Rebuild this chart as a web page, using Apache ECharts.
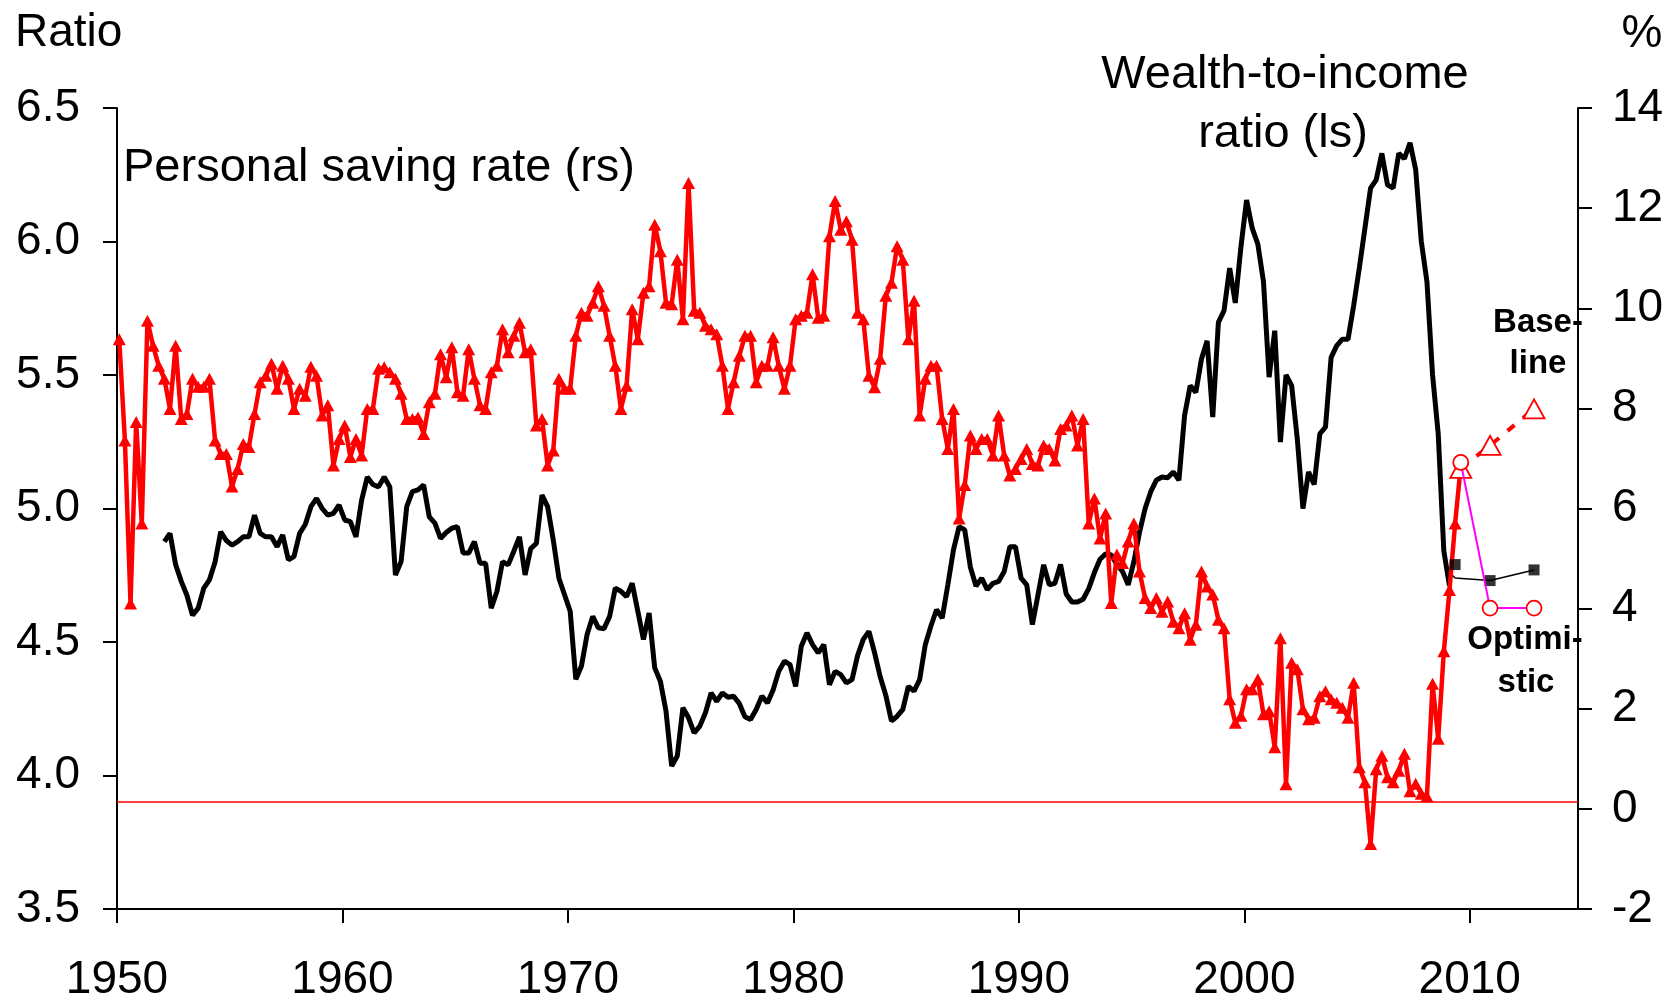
<!DOCTYPE html>
<html><head><meta charset="utf-8">
<script src="https://cdn.jsdelivr.net/npm/echarts/dist/echarts.min.js"></script>
<style>html,body{margin:0;padding:0;background:#fff}#c{width:1680px;height:1003px}</style>
</head><body><div id="c"></div>
<script>
// ---- data (quarterly) ----
const savingStart = 1950.1;   // position of first quarter (1950Q1)
const savingRate = [
9.38,7.36,4.10,7.73,5.70,9.75,9.25,8.85,8.59,7.99,9.25,7.79,7.89,8.59,8.43,8.43,8.59,7.36,7.09,7.09,
6.44,6.79,7.29,7.23,7.89,8.52,8.65,8.89,8.39,8.85,8.59,7.99,8.39,8.25,8.83,8.65,7.86,8.06,6.86,7.39,
7.66,7.03,7.39,7.06,7.99,7.99,8.79,8.82,8.72,8.59,8.29,7.79,7.79,7.82,7.49,8.12,8.29,9.08,8.62,9.22,
8.32,8.25,9.18,8.59,8.06,7.99,8.72,8.85,9.58,9.12,9.45,9.71,9.12,9.18,7.66,7.79,6.86,7.16,8.59,8.39,
8.39,9.45,9.91,9.85,10.11,10.44,10.05,9.45,8.85,7.99,8.45,9.98,9.38,10.31,10.44,11.67,11.14,10.11,10.08,10.97,
9.78,12.5,9.95,9.91,9.65,9.58,9.48,8.85,7.99,8.52,9.05,9.45,9.45,8.52,8.85,8.85,9.42,8.85,8.39,8.85,
9.78,9.85,9.91,10.68,9.81,9.85,11.44,12.14,11.57,11.74,11.37,9.91,9.78,8.65,8.42,8.99,10.25,10.51,11.24,10.97,
9.38,10.15,7.86,8.59,8.85,8.85,7.79,7.19,7.99,5.80,6.47,7.46,7.19,7.39,7.39,7.06,7.86,7.06,6.66,6.79,
6.99,7.19,6.89,6.86,7.26,7.19,6.96,7.59,7.66,7.86,7.26,7.79,5.70,6.20,5.40,5.90,4.11,5.08,4.91,5.34,
5.70,4.74,4.21,4.01,4.21,3.94,4.14,3.74,3.61,3.91,3.38,3.68,4.74,4.44,4.28,3.78,3.61,2.19,1.72,1.86,
2.39,2.39,2.59,1.89,1.95,1.23,3.41,0.49,2.92,2.79,1.99,1.79,1.82,2.25,2.35,2.19,2.12,2.02,1.82,2.52,
0.83,0.53,-0.70,0.79,1.06,0.63,0.53,0.76,1.10,0.35,0.50,0.30,0.25,2.50,1.40,3.15,4.37,5.70,6.85
];
const wealthStart = 1952.1;   // position of first quarter (1952Q1)
const wealthRatio = [
4.876,4.907,4.79,4.727,4.675,4.60,4.627,4.702,4.733,4.80,4.913,4.88,4.863,4.876,4.894,4.894,4.975,4.907,4.894,4.894,
4.857,4.901,4.808,4.82,4.907,4.94,5.007,5.038,5.00,4.975,4.982,5.013,4.957,4.951,4.894,5.031,5.118,5.09,5.081,5.118,
5.081,4.751,4.801,5.007,5.063,5.07,5.088,4.969,4.945,4.888,4.91,4.926,4.932,4.833,4.833,4.876,4.795,4.795,4.627,4.689,
4.801,4.789,4.84,4.894,4.751,4.85,4.869,5.05,5.007,4.882,4.739,4.677,4.615,4.36,4.41,4.528,4.596,4.553,4.55,4.596,
4.702,4.69,4.67,4.72,4.615,4.509,4.609,4.403,4.353,4.241,4.036,4.073,4.254,4.216,4.16,4.185,4.235,4.309,4.278,4.309,
4.293,4.297,4.27,4.22,4.21,4.247,4.297,4.272,4.32,4.39,4.428,4.415,4.334,4.484,4.534,4.49,4.459,4.49,4.34,4.39,
4.378,4.347,4.359,4.45,4.51,4.54,4.46,4.37,4.30,4.204,4.222,4.247,4.334,4.316,4.359,4.49,4.56,4.621,4.59,4.714,
4.845,4.932,4.92,4.78,4.71,4.739,4.696,4.72,4.727,4.764,4.857,4.857,4.739,4.714,4.565,4.677,4.789,4.714,4.72,4.79,
4.68,4.65,4.65,4.66,4.70,4.76,4.81,4.83,4.826,4.79,4.764,4.714,4.80,4.91,5.00,5.063,5.106,5.118,5.115,5.137,
5.106,5.348,5.46,5.435,5.56,5.628,5.342,5.697,5.741,5.90,5.77,5.98,6.155,6.05,5.99,5.85,5.492,5.666,5.249,5.50,
5.46,5.261,5.00,5.137,5.09,5.28,5.305,5.566,5.61,5.634,5.634,5.76,5.90,6.05,6.20,6.231,6.33,6.212,6.20,6.33,
6.31,6.37,6.27,6.00,5.85,5.50,5.28,4.84,4.71
];
// projections
const projYears = [2009.6, 2010.9, 2012.85];
const baselineSaving = [6.80, 7.26, 7.99];
const optimisticSaving = [6.92, 4.01, 4.01];
const wealthProjYears = [2009.1, 2009.35, 2010.9, 2012.85];
const wealthProj = [4.76, 4.74, 4.73, 4.77];
const wealthMarkYears = [2009.35, 2010.9, 2012.85];
const wealthMarks = [4.79, 4.73, 4.77];
const refLineRatio = 3.9;
// axes
const xTicks = [1950, 1960, 1970, 1980, 1990, 2000, 2010];

const FONT = '"Liberation Sans", Arial, sans-serif';
const quarterly = (start, arr) => arr.map((v, k) => [start + 0.25 * k, v]);
const pairs = (xs, ys) => xs.map((x, k) => [x, ys[k]]);

const chart = echarts.init(document.getElementById('c'), null, {renderer: 'canvas'});
const axisCommon = {
  axisLine: {show: true, onZero: false, lineStyle: {color: '#000', width: 2}},
  axisTick: {show: true, inside: false, length: 14, lineStyle: {color: '#000', width: 2}},
  splitLine: {show: false},
};
const txt = (text, x, y, size, align, bold) => ({
  type: 'text', z: 10,
  style: {text: text, x: x, y: y, font: (bold ? 'bold ' : '') + size + 'px ' + FONT, fill: '#000',
    textAlign: align, align: align, textVerticalAlign: 'middle', verticalAlign: 'middle'}
});
chart.setOption({
  animation: false,
  backgroundColor: '#fff',
  grid: {left: 117, right: 102, top: 108, bottom: 93, containLabel: false},
  xAxis: Object.assign({}, axisCommon, {
    type: 'value', min: 1950, max: 2014.8,
    axisTick: {show: true, inside: false, length: 14, lineStyle: {color: '#000', width: 2}, customValues: xTicks},
    axisLabel: {customValues: xTicks, fontSize: 46, fontFamily: FONT, color: '#000', margin: 71, verticalAlign: 'middle',
      formatter: v => String(v)}
  }),
  yAxis: [
    Object.assign({}, axisCommon, {
      type: 'value', position: 'left', min: 3.5, max: 6.5, interval: 0.5,
      axisLabel: {fontSize: 46, fontFamily: FONT, color: '#000', margin: 37, padding: [6, 0, 0, 0], formatter: v => v.toFixed(1)}
    }),
    Object.assign({}, axisCommon, {
      type: 'value', position: 'right', min: -2, max: 14, interval: 2,
      axisLabel: {fontSize: 46, fontFamily: FONT, color: '#000', margin: 34, padding: [6, 0, 0, 0], formatter: v => String(v)}
    })
  ],
  graphic: [
    txt('Ratio', 15, 33, 46, 'left'),
    txt('%', 1642, 34, 46, 'center'),
    txt('Personal saving rate (rs)', 123, 168, 47, 'left'),
    txt('Wealth-to-income', 1285, 75, 47, 'center'),
    txt('ratio (ls)', 1283, 134, 47, 'center'),
    txt('Base-', 1538, 323, 33, 'center', true),
    txt('line', 1538, 364, 33, 'center', true),
    txt('Optimi-', 1525, 640, 33, 'center', true),
    txt('stic', 1526, 683, 33, 'center', true)
  ],
  series: [
    {
      name: 'Wealth-to-income ratio', type: 'line', yAxisIndex: 0, z: 2,
      data: quarterly(wealthStart, wealthRatio),
      symbol: 'none', lineStyle: {color: '#000', width: 5}, itemStyle: {color: '#000'},
      markLine: {silent: true, symbol: 'none', label: {show: false},
        lineStyle: {color: '#ff0000', width: 1.5, type: 'solid'}, data: [{yAxis: refLineRatio}]}
    },
    {
      name: 'Wealth projection', type: 'line', yAxisIndex: 0, z: 2,
      data: pairs(wealthProjYears, wealthProj), symbol: 'none',
      lineStyle: {color: '#000', width: 1.5}
    },
    {
      name: 'Wealth projection marks', type: 'scatter', yAxisIndex: 0, z: 3,
      data: pairs(wealthMarkYears, wealthMarks), symbol: 'rect', symbolSize: 11,
      itemStyle: {color: '#000'}
    },
    {
      name: 'Personal saving rate', type: 'line', yAxisIndex: 1, z: 3,
      data: quarterly(savingStart, savingRate),
      symbol: 'triangle', symbolSize: [13, 12], showAllSymbol: true,
      lineStyle: {color: '#ff0000', width: 4.5}, itemStyle: {color: '#ff0000'}
    },
    {
      name: 'Baseline', type: 'line', yAxisIndex: 1, z: 4,
      data: pairs(projYears, baselineSaving),
      symbol: 'triangle', symbolSize: [21, 19], showAllSymbol: true,
      lineStyle: {color: '#ff0000', width: 4, type: [9, 11]},
      itemStyle: {color: '#fff', borderColor: '#ff0000', borderWidth: 1.8}
    },
    {
      name: 'Optimistic', type: 'line', yAxisIndex: 1, z: 5,
      data: pairs(projYears, optimisticSaving),
      symbol: 'circle', symbolSize: 15, showAllSymbol: true,
      lineStyle: {color: '#ff00ff', width: 2},
      itemStyle: {color: '#fff', borderColor: '#ff0000', borderWidth: 1.8}
    }
  ]
});
</script></body></html>
